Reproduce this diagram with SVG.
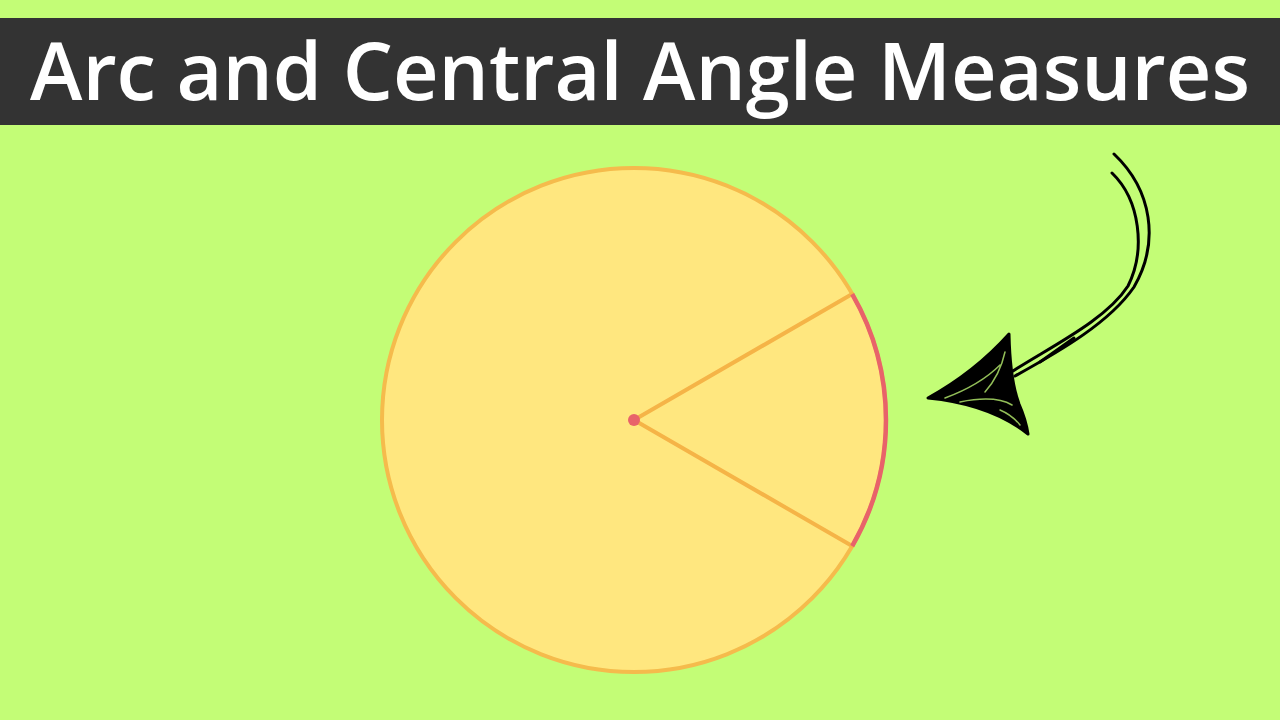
<svg xmlns="http://www.w3.org/2000/svg" width="1280" height="720" viewBox="0 0 1280 720">
  <style>
    .title { font-family: "Open Sans", "Noto Sans", "DejaVu Sans", sans-serif; font-weight: 600; font-size: 80px; fill: #ffffff; }
    .ink { fill: none; stroke: #000000; stroke-width: 3; stroke-linecap: round; stroke-linejoin: round; }
    .gap { fill: none; stroke: #c3fd76; stroke-width: 1.5; stroke-linecap: round; opacity: 0.75; }
  </style>
  <rect x="0" y="0" width="1280" height="720" fill="#c3fd76"/>
  <g id="title">
    <rect x="0" y="18" width="1280" height="107" fill="#333333"/>
    <text class="title" x="640" y="100" text-anchor="middle" textLength="1220" lengthAdjust="spacingAndGlyphs">Arc and Central Angle Measures</text>
  </g>
  <g id="circle">
    <circle cx="634" cy="420" r="252" fill="#ffe77f" stroke="#f5bb4c" stroke-width="4"/>
    <line x1="634" y1="420" x2="852.2" y2="294" stroke="#f5b447" stroke-width="4" stroke-linecap="round"/>
    <line x1="634" y1="420" x2="852.2" y2="546" stroke="#f5b447" stroke-width="4" stroke-linecap="round"/>
    <path d="M852.2,294 A252,252 0 0 1 852.2,546" fill="none" stroke="#e8636a" stroke-width="4.5"/>
    <circle cx="634" cy="420" r="6" fill="#e8636a"/>
  </g>
  <g id="arrow">
    <path class="ink" d="M1114,154 C1152,190 1160,242 1134,287 C1110,322 1062,350 1015,376"/>
    <path class="ink" d="M1112,173 C1140,200 1146,250 1128,286 C1106,320 1052,346 1013,371"/>
    <path class="ink" d="M1074,338 L1040,362"/>
    <path d="M928,398 Q975,372 1009,334 Q1010,380 1019,404 Q1026,420 1028,434 Q990,404 928,398 Z" fill="#000000" stroke="#000000" stroke-width="3" stroke-linejoin="round"/>
    <path class="gap" d="M945,398 Q980,385 1000,365 M960,402 Q995,395 1012,405 M985,392 Q1000,375 1005,352 M1000,410 Q1012,415 1020,425"/>
  </g>
</svg>
